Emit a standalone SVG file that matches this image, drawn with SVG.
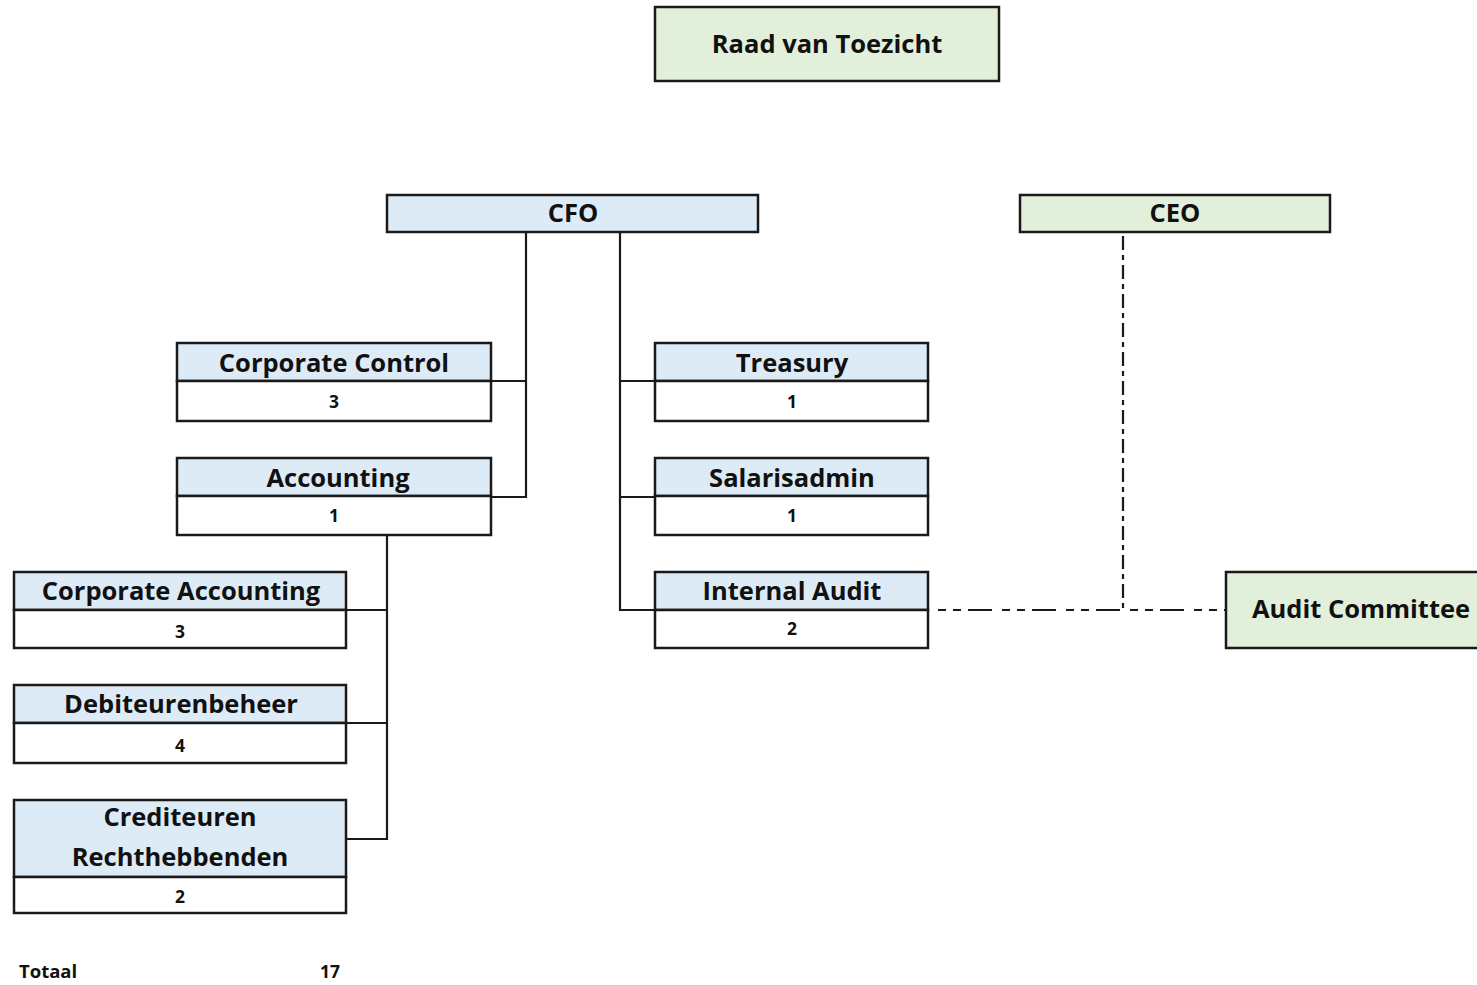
<svg xmlns="http://www.w3.org/2000/svg" width="1477" height="985" viewBox="0 0 1477 985">
<style>
.b{stroke:#1a1a1a;stroke-width:2.5}
.blue{fill:#ddebf7}
.green{fill:#e2efda}
.white{fill:#ffffff}
text{font-family:"Open Sans","Noto Sans",sans-serif;font-weight:bold;fill:#111;text-anchor:middle}
.t{font-size:25.5px}
.n{font-size:17.5px}
.c{fill:none;stroke:#1a1a1a;stroke-width:2.2}
</style>
<rect width="1477" height="985" fill="#ffffff"/>
<g id="connectors">
<polyline class="c" points="526,232 526,497 491,497"/>
<line class="c" x1="491" y1="381" x2="526" y2="381"/>
<polyline class="c" points="620,232 620,610 655,610"/>
<line class="c" x1="620" y1="381" x2="655" y2="381"/>
<line class="c" x1="620" y1="497" x2="655" y2="497"/>
<polyline class="c" points="387,535 387,839 346,839"/>
<line class="c" x1="346" y1="610" x2="387" y2="610"/>
<line class="c" x1="346" y1="723" x2="387" y2="723"/>
<line class="c" x1="1123" y1="236" x2="1123" y2="610" stroke-dasharray="14 5 5 5"/>
<line class="c" x1="928" y1="610" x2="1226" y2="610" stroke-dasharray="0 10 8 7 8 7 24 0"/>
</g>
<g id="raad">
<rect class="b green" x="655" y="7" width="344" height="74"/>
<text class="t" x="827" y="53">Raad van Toezicht</text>
</g>
<g id="cfo">
<rect class="b blue" x="387" y="195" width="371" height="37"/>
<text class="t" x="573" y="222">CFO</text>
</g>
<g id="ceo">
<rect class="b green" x="1020" y="195" width="310" height="37"/>
<text class="t" x="1175" y="222">CEO</text>
</g>
<g id="corporate-control">
<rect class="b blue" x="177" y="343" width="314" height="38"/>
<rect class="b white" x="177" y="381" width="314" height="40"/>
<text class="t" x="334" y="372">Corporate Control</text>
<text class="n" x="334" y="408">3</text>
</g>
<g id="accounting">
<rect class="b blue" x="177" y="458" width="314" height="38"/>
<rect class="b white" x="177" y="496" width="314" height="39"/>
<text class="t" x="338" y="487">Accounting</text>
<text class="n" x="334" y="522">1</text>
</g>
<g id="treasury">
<rect class="b blue" x="655" y="343" width="273" height="38"/>
<rect class="b white" x="655" y="381" width="273" height="40"/>
<text class="t" x="792" y="372">Treasury</text>
<text class="n" x="792" y="408">1</text>
</g>
<g id="salarisadmin">
<rect class="b blue" x="655" y="458" width="273" height="38"/>
<rect class="b white" x="655" y="496" width="273" height="39"/>
<text class="t" x="792" y="487">Salarisadmin</text>
<text class="n" x="792" y="522">1</text>
</g>
<g id="internal-audit">
<rect class="b blue" x="655" y="572" width="273" height="38"/>
<rect class="b white" x="655" y="610" width="273" height="38"/>
<text class="t" x="792" y="600">Internal Audit</text>
<text class="n" x="792" y="635">2</text>
</g>
<g id="corporate-accounting">
<rect class="b blue" x="14" y="572" width="332" height="38"/>
<rect class="b white" x="14" y="610" width="332" height="38"/>
<text class="t" x="181" y="600">Corporate Accounting</text>
<text class="n" x="180" y="638">3</text>
</g>
<g id="debiteurenbeheer">
<rect class="b blue" x="14" y="685" width="332" height="38"/>
<rect class="b white" x="14" y="723" width="332" height="40"/>
<text class="t" x="181" y="713">Debiteurenbeheer</text>
<text class="n" x="180" y="752">4</text>
</g>
<g id="crediteuren">
<rect class="b blue" x="14" y="800" width="332" height="77"/>
<rect class="b white" x="14" y="877" width="332" height="36"/>
<text class="t" x="180" y="826">Crediteuren</text>
<text class="t" x="180" y="866">Rechthebbenden</text>
<text class="n" x="180" y="903">2</text>
</g>
<g id="audit-committee">
<rect class="b green" x="1226" y="572" width="260" height="76"/>
<text class="t" x="1252" y="618" style="text-anchor:start">Audit Committee</text>
</g>
<g id="totaal">
<text class="n" x="19" y="978" style="text-anchor:start;font-size:18.5px">Totaal</text>
<text class="n" x="330" y="978">17</text>
</g>
</svg>
